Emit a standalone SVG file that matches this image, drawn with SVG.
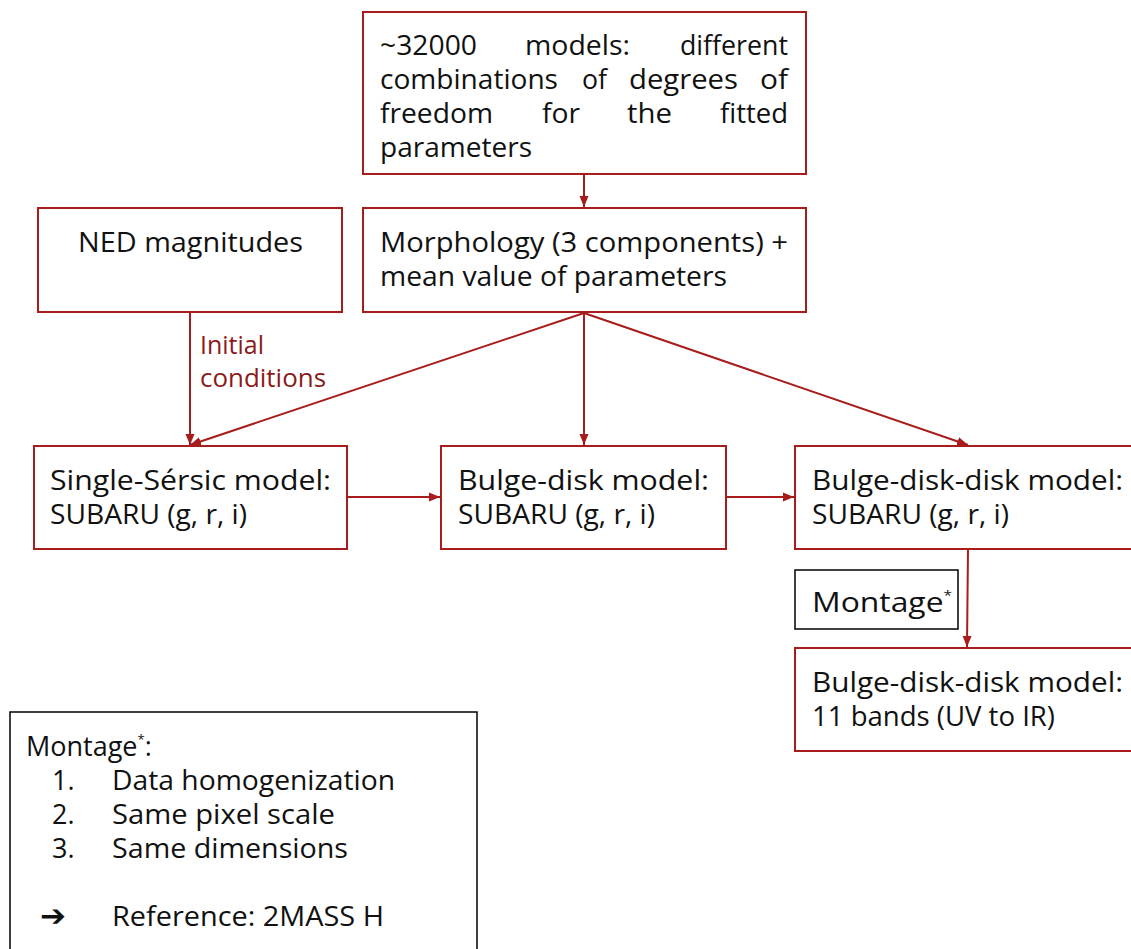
<svg xmlns="http://www.w3.org/2000/svg" width="1131" height="949" viewBox="0 0 1131 949">
<style>
.box{fill:#fff;stroke:#a81c1c;stroke-width:2}
.bbox{fill:#fff;stroke:#000;stroke-width:1.5}
.t{font-family:"Open Sans","Liberation Sans",sans-serif;font-size:27px;fill:#111}
.lbl{font-family:"Open Sans","Liberation Sans",sans-serif;font-size:25px;fill:#8c1a1a}
.c{fill:none;stroke:#a81c1c;stroke-width:2;marker-end:url(#ah)}
</style>
<defs>
<marker id="ah" markerUnits="userSpaceOnUse" markerWidth="12" markerHeight="10" refX="11" refY="5" orient="auto">
<path d="M0,0.5 L11,5 L0,9.5 z" fill="#a81c1c"/>
</marker>
</defs>
<rect width="1131" height="949" fill="#fff"/>
<g id="connectors">
<line class="c" x1="584" y1="174" x2="584" y2="207"/>
<line class="c" x1="190" y1="312" x2="190" y2="445"/>
<line class="c" x1="584" y1="313" x2="190" y2="445"/>
<line class="c" x1="584" y1="313" x2="584" y2="445"/>
<line class="c" x1="584" y1="313" x2="968" y2="445"/>
<line class="c" x1="347" y1="497" x2="440" y2="497"/>
<line class="c" x1="726" y1="497" x2="794" y2="497"/>
<line class="c" x1="968" y1="549" x2="967" y2="647"/>
<text class="lbl" x="200" y="354" textLength="64" lengthAdjust="spacingAndGlyphs">Initial</text>
<text class="lbl" x="200" y="387" textLength="126" lengthAdjust="spacingAndGlyphs">conditions</text>
</g>
<g id="top">
<rect class="box" x="363" y="12" width="443" height="162"/>
<text class="t" y="55"><tspan x="380" textLength="97" lengthAdjust="spacingAndGlyphs">~32000</tspan><tspan x="525" textLength="105" lengthAdjust="spacingAndGlyphs">models:</tspan><tspan x="680" textLength="108" lengthAdjust="spacingAndGlyphs">different</tspan></text>
<text class="t" y="89"><tspan x="380" textLength="178" lengthAdjust="spacingAndGlyphs">combinations</tspan><tspan x="582" textLength="25" lengthAdjust="spacingAndGlyphs">of</tspan><tspan x="629" textLength="109" lengthAdjust="spacingAndGlyphs">degrees</tspan><tspan x="760" textLength="28" lengthAdjust="spacingAndGlyphs">of</tspan></text>
<text class="t" y="123"><tspan x="380" textLength="113" lengthAdjust="spacingAndGlyphs">freedom</tspan><tspan x="542" textLength="38" lengthAdjust="spacingAndGlyphs">for</tspan><tspan x="627" textLength="45" lengthAdjust="spacingAndGlyphs">the</tspan><tspan x="720" textLength="68" lengthAdjust="spacingAndGlyphs">fitted</tspan></text>
<text class="t" x="380" y="157" textLength="152" lengthAdjust="spacingAndGlyphs">parameters</text>
</g>
<g id="ned">
<rect class="box" x="38" y="208" width="304" height="104"/>
<text class="t" x="78" y="252" textLength="225" lengthAdjust="spacingAndGlyphs">NED magnitudes</text>
</g>
<g id="morph">
<rect class="box" x="363" y="208" width="443" height="104"/>
<text class="t" x="380" y="252" textLength="408" lengthAdjust="spacingAndGlyphs">Morphology (3 components) +</text>
<text class="t" x="380" y="286" textLength="347" lengthAdjust="spacingAndGlyphs">mean value of parameters</text>
</g>
<g id="single">
<rect class="box" x="34" y="446" width="313" height="103"/>
<text class="t" x="50" y="490" textLength="281" lengthAdjust="spacingAndGlyphs">Single-Sérsic model:</text>
<text class="t" x="50" y="524" textLength="197" lengthAdjust="spacingAndGlyphs">SUBARU (g, r, i)</text>
</g>
<g id="bulgedisk">
<rect class="box" x="441" y="446" width="285" height="103"/>
<text class="t" x="458" y="490" textLength="251" lengthAdjust="spacingAndGlyphs">Bulge-disk model:</text>
<text class="t" x="458" y="524" textLength="197" lengthAdjust="spacingAndGlyphs">SUBARU (g, r, i)</text>
</g>
<g id="bdd">
<rect class="box" x="795" y="446" width="345" height="103"/>
<text class="t" x="812" y="490" textLength="311" lengthAdjust="spacingAndGlyphs">Bulge-disk-disk model:</text>
<text class="t" x="812" y="524" textLength="197" lengthAdjust="spacingAndGlyphs">SUBARU (g, r, i)</text>
</g>
<g id="montage">
<rect class="bbox" x="795" y="570" width="163" height="59"/>
<text class="t" x="812" y="612" textLength="140" lengthAdjust="spacingAndGlyphs">Montage<tspan font-size="13" dy="-12">*</tspan></text>
</g>
<g id="bdd11">
<rect class="box" x="795" y="648" width="345" height="103"/>
<text class="t" x="812" y="692" textLength="311" lengthAdjust="spacingAndGlyphs">Bulge-disk-disk model:</text>
<text class="t" x="812" y="726" textLength="243" lengthAdjust="spacingAndGlyphs">11 bands (UV to IR)</text>
</g>
<g id="legend">
<rect class="bbox" x="10" y="712" width="467" height="250"/>
<text class="t" x="26" y="756">Montage<tspan font-size="13" dy="-12">*</tspan><tspan dy="12">:</tspan></text>
<text class="t" x="52" y="790" font-size="22">1.</text>
<text class="t" x="112" y="790" textLength="283" lengthAdjust="spacingAndGlyphs">Data homogenization</text>
<text class="t" x="52" y="824" font-size="22">2.</text>
<text class="t" x="112" y="824" textLength="223" lengthAdjust="spacingAndGlyphs">Same pixel scale</text>
<text class="t" x="52" y="858" font-size="22">3.</text>
<text class="t" x="112" y="858" textLength="236" lengthAdjust="spacingAndGlyphs">Same dimensions</text>
<text x="40" y="926" textLength="26" lengthAdjust="spacingAndGlyphs" style="font-family:'DejaVu Sans',sans-serif;font-size:30px;font-weight:bold;fill:#111">➔</text>
<text class="t" x="112" y="926" textLength="272" lengthAdjust="spacingAndGlyphs">Reference: 2MASS H</text>
</g>
</svg>
